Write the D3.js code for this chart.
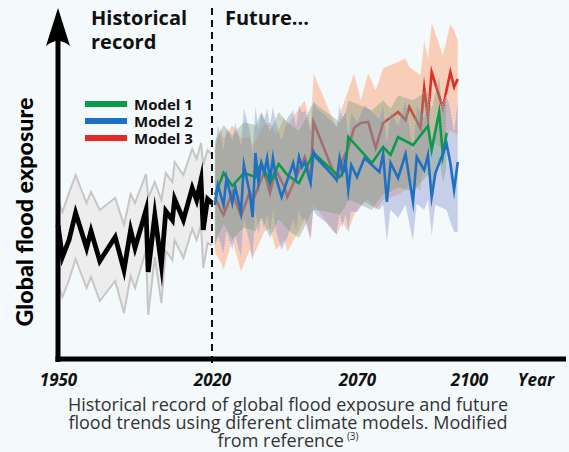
<!DOCTYPE html>
<html>
<head>
<meta charset="utf-8">
<script src="https://cdn.jsdelivr.net/npm/d3@7"></script>
<style>
  html, body { margin: 0; padding: 0; background: #f4f9fb; }
  svg { display: block; }
</style>
</head>
<body>
<svg id="chart" width="569" height="452"></svg>
<script>
// ---- Historical record (index of global flood exposure) ----
const histYears  = [1950,1952,1955,1958,1963,1965,1969,1976,1980,1983,1985,1990,1991,1994,1997,1999,2002,2003,2007,2011,2013,2015,2016,2018,2020];
const histValues = [27.0,20.6,24.0,29.4,22.4,25.8,19.8,24.6,18.0,26.0,22.4,30.0,17.6,29.0,19.0,29.8,28.0,32.2,28.0,34.4,32.0,36.0,26.0,32.2,31.4];
const histHigh   = [32.0,29.6,33.4,37.0,31.4,33.6,30.0,32.4,27.0,33.2,31.4,37.2,32.4,35.6,32.0,37.4,35.6,39.6,37.0,42.2,40.2,43.4,39.0,42.0,41.0];
const histLow    = [15.0,12.6,16.0,20.2,14.4,16.6,11.8,15.8, 9.4,16.8,14.4,22.0, 9.0,20.6,11.4,21.8,20.0,24.0,20.4,26.2,24.0,27.0,18.4,23.4,23.0];

// ---- Model 1 ----
const m1Years  = [2021,2024,2027,2031,2035,2037,2040,2043,2046,2050,2055,2064,2066,2067,2074,2077,2079,2081,2085,2089,2090,2092,2093,2094];
const m1Values = [33.0,37.4,34.8,37.4,36.6,39.4,35.4,39.2,37.0,35.4,41.4,36.6,38.2,44.6,39.4,42.6,41.0,44.6,43.0,46.8,42.0,49.6,41.0,45.4];
const m1High   = [44.0,47.0,45.0,47.6,47.0,49.6,46.0,49.6,47.6,46.0,51.6,47.6,49.6,52.0,50.0,52.0,50.4,53.0,52.0,54.0,50.4,57.0,50.0,53.0];
const m1Low    = [23.0,27.0,24.0,26.4,25.6,28.4,24.4,28.0,26.0,24.4,30.0,29.0,30.4,32.0,30.0,33.0,33.6,34.4,33.6,37.0,34.0,40.0,35.0,38.4];

// ---- Model 2 ----
const m2Years  = [2021,2022,2024,2025,2027,2028,2030,2031,2033,2034,2035,2036,2037,2038,2039,2040,2041,2042,2044,2046,2048,2049,2050,2051,2052,2054,2055,2056,2059,2063,2064,2065,2066,2067,2068,2070,2072,2076,2077,2078,2079,2081,2083,2085,2086,2088,2089,2090,2091,2094,2095,2096,2097];
const m2Values = [31.0,35.0,31.0,36.4,31.4,34.6,29.6,39.0,33.4,28.6,41.4,35.6,39.4,37.4,40.4,36.0,40.4,36.6,32.6,36.0,39.4,36.6,40.6,38.6,39.6,35.4,41.6,40.4,38.6,36.0,40.4,37.6,40.0,34.0,39.0,36.6,40.4,37.6,41.2,31.6,39.4,36.4,41.2,31.6,40.6,38.0,41.0,32.6,37.4,43.2,39.4,34.0,39.6];
const m2High   = [42.0,47.0,42.4,46.4,44.0,47.6,43.0,50.4,46.0,41.6,51.0,46.4,49.6,48.0,50.4,47.0,50.8,47.6,44.0,48.4,50.0,47.0,51.0,49.6,50.0,46.0,52.0,50.4,49.0,46.8,51.0,48.4,50.0,45.0,49.6,47.6,51.0,48.4,51.2,44.0,49.6,47.0,52.0,42.0,51.0,48.4,51.6,44.0,48.0,53.0,50.4,46.0,52.4];
const m2Low    = [22.0,25.0,21.0,25.6,22.0,24.8,20.4,28.0,23.0,19.6,29.6,24.8,28.0,26.0,29.0,24.8,29.6,25.6,22.0,24.4,28.0,25.6,29.6,27.6,28.4,24.0,30.0,29.0,27.6,25.0,29.0,26.4,29.0,25.6,29.6,29.6,31.6,30.0,31.0,23.6,30.0,28.4,31.0,23.6,31.2,30.0,32.0,24.8,31.0,30.0,27.6,25.6,25.6];

// ---- Model 3 ----
const m3Years  = [2021,2023,2024,2027,2030,2033,2034,2038,2040,2042,2045,2046,2052,2054,2055,2063,2065,2067,2069,2071,2073,2075,2077,2081,2083,2084,2087,2088,2089,2090,2093,2095,2096,2097];
const m3Values = [32.6,30.0,29.0,33.6,28.8,33.6,31.8,37.6,33.4,38.0,34.6,32.6,40.6,36.4,47.6,36.0,40.0,42.4,46.4,47.4,47.6,42.4,47.4,49.6,48.0,50.6,46.4,54.4,48.4,57.6,50.4,57.6,54.6,56.2];
const m3High   = [42.4,46.4,44.4,47.0,44.4,44.6,43.0,47.0,47.6,45.0,48.4,47.0,52.0,46.8,57.4,46.4,50.8,54.0,57.4,52.0,57.4,54.0,58.4,59.6,60.4,58.6,57.0,64.0,60.4,67.6,61.0,67.2,66.0,64.0];
const m3Low    = [21.4,19.6,18.0,24.0,17.6,22.0,20.4,25.6,26.4,22.0,24.0,21.6,28.0,24.0,31.0,25.0,27.6,25.6,29.0,31.0,32.0,30.0,32.0,33.0,34.0,35.0,34.0,40.0,38.0,44.0,42.0,46.0,45.4,45.0];

// ---- Axis and legend text ----
const tickYears  = [1950, 2020, 2070, 2100];
const tickLabels = ["1950", "2020", "2070", "2100"];
const modelNames = ["Model 1", "Model 2", "Model 3"];
const modelColors = ["#0b9a4b", "#1f70c1", "#e62a26"];
const captionLines = [
  "Historical record of global flood exposure and future",
  "flood trends using diferent climate models. Modified",
  "from reference"
];

const W = 569, H = 452;
const svg = d3.select("#chart");
svg.append("rect").attr("width", W).attr("height", H).attr("fill", "#f4f9fb");

// Time axis is stretched differently before and after 2020 / 2070
const x = d3.scaleLinear().domain([1950, 2020, 2070, 2100]).range([58, 212, 357, 469]);
const y = d3.scaleLinear().domain([0, 72]).range([360, 0]);

const rows = (yrs, v, hi, lo) => yrs.map((yr, i) => ({ year: yr, v: v[i], hi: hi[i], lo: lo[i] }));
const hist = rows(histYears, histValues, histHigh, histLow);
const m1 = rows(m1Years, m1Values, m1High, m1Low);
const m2 = rows(m2Years, m2Values, m2High, m2Low);
const m3 = rows(m3Years, m3Values, m3High, m3Low);

const bandArea  = d3.area().x(d => x(d.year)).y0(d => y(d.lo)).y1(d => y(d.hi));
const midLine   = d3.line().x(d => x(d.year)).y(d => y(d.v));
const upperEdge = d3.line().x(d => x(d.year)).y(d => y(d.hi));
const lowerEdge = d3.line().x(d => x(d.year)).y(d => y(d.lo));

// Historical uncertainty band
svg.append("path").datum(hist).attr("d", bandArea).attr("fill", "#ededed");
[upperEdge, lowerEdge].forEach(g => svg.append("path").datum(hist).attr("d", g)
  .attr("fill", "none").attr("stroke", "#c6c6c6").attr("stroke-width", 2));

// Model bands and lines
function drawBand(data, fill, op) {
  svg.append("path").datum(data).attr("d", bandArea)
    .attr("fill", fill).attr("fill-opacity", op)
    .attr("stroke", "#ffffff").attr("stroke-opacity", 0.45)
    .attr("stroke-width", 0.8).attr("stroke-dasharray", "1.5,1.5");
}
function drawLine(data, color, w) {
  svg.append("path").datum(data).attr("d", midLine)
    .attr("fill", "none").attr("stroke", color).attr("stroke-width", w)
    .attr("stroke-linejoin", "miter").attr("stroke-miterlimit", 10);
}
drawBand(m3, "#ff9a66", 0.45);
drawLine(m3, modelColors[2], 2.6);
drawBand(m2, "#8593d2", 0.42);
drawBand(m1, "#7a9c78", 0.38);
drawLine(m1, modelColors[0], 2.6);
drawLine(m2, modelColors[1], 2.6);

// Historical line
svg.append("path").datum(hist).attr("d", midLine)
  .attr("fill", "none").attr("stroke", "#000").attr("stroke-width", 4.8)
  .attr("stroke-linejoin", "miter").attr("stroke-miterlimit", 10);

// 2020 divider
svg.append("line").attr("x1", x(2020)).attr("x2", x(2020)).attr("y1", 8).attr("y2", 365)
  .attr("stroke", "#111").attr("stroke-width", 2).attr("stroke-dasharray", "7,5");

// Axes
const x0 = x(1950);
svg.append("line").attr("x1", x0).attr("x2", x0).attr("y1", 362).attr("y2", 36)
  .attr("stroke", "#000").attr("stroke-width", 5);
svg.append("line").attr("x1", x0 - 2.5).attr("x2", 566).attr("y1", 359).attr("y2", 359)
  .attr("stroke", "#000").attr("stroke-width", 5);
svg.append("path")
  .attr("d", `M${x0},8 L${x0 + 12},46 Q${x0},36 ${x0 - 12},46 Z`)
  .attr("fill", "#000");

const xAxis = d3.axisBottom(x).tickValues(tickYears).tickFormat((d, i) => tickLabels[i]).tickSize(0);
const gx = svg.append("g").attr("transform", "translate(0,359)").call(xAxis);
gx.select(".domain").remove();
gx.selectAll("text")
  .attr("y", 27).attr("dy", 0)
  .attr("fill", "#111")
  .style("font-family", "'Open Sans', sans-serif")
  .style("font-size", "17px").style("font-weight", 700).style("font-style", "italic");
svg.append("text").attr("x", 536).attr("y", 386).attr("text-anchor", "middle")
  .attr("fill", "#111")
  .style("font-family", "'Open Sans', sans-serif")
  .style("font-size", "17px").style("font-weight", 700).style("font-style", "italic")
  .text("Year");

// Y axis title
svg.append("text")
  .attr("transform", "translate(33,212) rotate(-90)")
  .attr("text-anchor", "middle")
  .attr("textLength", 229).attr("lengthAdjust", "spacingAndGlyphs")
  .attr("fill", "#000")
  .style("font-family", "Lato, sans-serif").style("font-size", "22px").style("font-weight", 900)
  .text("Global  flood  exposure");

// Period headings
const head = (t, xx, yy) => svg.append("text").attr("x", xx).attr("y", yy)
  .attr("fill", "#111")
  .style("font-family", "'Open Sans', sans-serif").style("font-size", "20px").style("font-weight", 700)
  .text(t);
head("Historical", 91, 25);
head("record", 91, 49);
head("Future...", 225, 25);

// Legend
modelNames.forEach((name, i) => {
  const ly = 104 + i * 17;
  svg.append("line").attr("x1", 85).attr("x2", 127).attr("y1", ly).attr("y2", ly)
    .attr("stroke", modelColors[i]).attr("stroke-width", 6);
  svg.append("text").attr("x", 134).attr("y", ly + 5.5)
    .attr("fill", "#111")
    .style("font-family", "'Open Sans', sans-serif").style("font-size", "15px").style("font-weight", 700)
    .text(name);
});

// Caption
const cap = svg.append("text").attr("text-anchor", "middle").attr("fill", "#333")
  .style("font-family", "'Open Sans', sans-serif").style("font-size", "18px");
captionLines.forEach((t, i) => {
  cap.append("tspan").attr("x", 288).attr("y", 411 + i * 18).text(t);
  if (i === captionLines.length - 1) {
    cap.append("tspan").attr("dx", 3).attr("dy", -7).style("font-size", "10px").text("(3)");
  }
});
</script>
</body>
</html>
